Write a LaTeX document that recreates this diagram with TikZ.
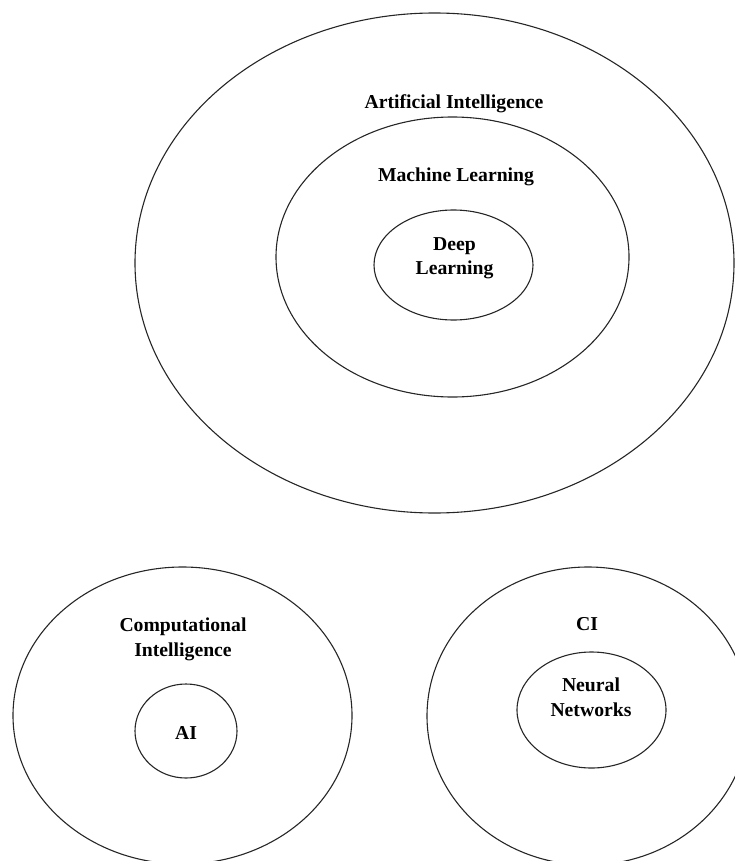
\documentclass[tikz,border=0pt]{standalone}
\usepackage{fontspec}
\setmainfont{Liberation Serif}
\usetikzlibrary{shapes.geometric}
\begin{document}
\begin{tikzpicture}[x=1pt,y=-1pt,
  ring/.style={draw=black!85, line width=1.1pt, ellipse, inner sep=0pt, outer sep=0pt},
  lbl/.style={font=\fontsize{19.7}{24.5}\selectfont\bfseries, anchor=base, inner sep=0pt}]
\useasboundingbox (0,0) rectangle (735,861);
\clip (0,0) rectangle (735,861);
% top group
\node[ring, minimum width=599pt, minimum height=500pt] (aiRing) at (434.5,263) {};
\node[ring, minimum width=353pt, minimum height=280pt] (mlRing) at (452.5,257) {};
\node[ring, minimum width=159pt, minimum height=110pt] (dlRing) at (453.5,265) {};
\node[lbl] (aiText) at (454,109) {Artificial Intelligence};
\node[lbl] (mlText) at (456,181.5) {Machine Learning};
\node[lbl] (dlText) at (454.5,250) {\begin{tabular}[t]{@{}c@{}}Deep\\Learning\end{tabular}};
% bottom left group
\node[ring, minimum width=339pt, minimum height=297pt] (ciRing) at (182.5,715.5) {};
\node[ring, minimum width=102pt, minimum height=94pt] (aiSmall) at (186,731) {};
\node[lbl] (ciText) at (183,631.5) {\begin{tabular}[t]{@{}c@{}}Computational\\Intelligence\end{tabular}};
\node[lbl] (aiSmallText) at (186,739) {AI};
% bottom right group
\node[ring, minimum width=322pt, minimum height=298pt] (ciRing2) at (588,716) {};
\node[ring, minimum width=149pt, minimum height=116pt] (nnRing) at (591.5,710) {};
\node[lbl] (ciText2) at (587,630.5) {CI};
\node[lbl] (nnText) at (591,691.5) {\begin{tabular}[t]{@{}c@{}}Neural\\Networks\end{tabular}};
\end{tikzpicture}
\end{document}
